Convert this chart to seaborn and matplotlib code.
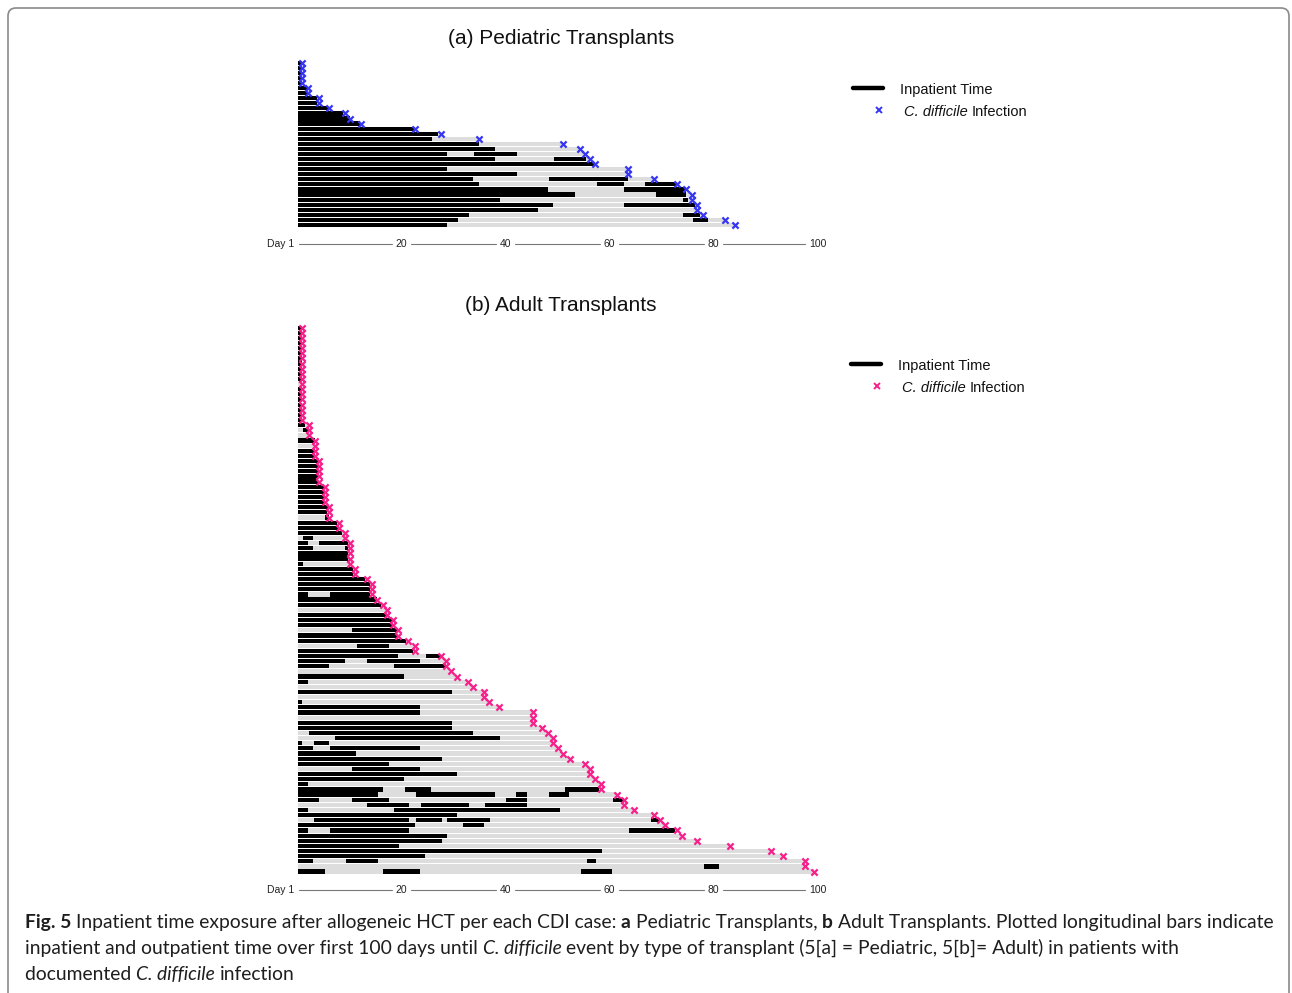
import numpy as np
import pandas as pd
import matplotlib
matplotlib.use("Agg")
import matplotlib.pyplot as plt
import seaborn as sns
from matplotlib.lines import Line2D
from matplotlib.patches import FancyBboxPatch
from matplotlib.transforms import IdentityTransform, blended_transform_factory

# ---------------- data ----------------
ped_title = "(a) Pediatric Transplants"
adult_title = "(b) Adult Transplants"
tick_values = [1, 20, 40, 60, 80, 100]
tick_labels = ["Day 1", "20", "40", "60", "80", "100"]
legend_labels = ["Inpatient Time", "C. difficile", "Infection"]

# day of C. difficile infection per patient (rows top -> bottom)
ped_cdi_day = [0.8, 0.8, 0.8, 0.8, 0.8, 2.1, 2.1, 4.1, 4.1, 6.1, 9.1, 10.1, 12.3,
               22.6, 27.6, 34.9, 51.1, 54.3, 55.3, 56.3, 57.3, 63.6, 63.6, 68.6,
               72.9, 74.8, 75.9, 75.9, 76.9, 76.9, 77.9, 82.2, 84.1]
# inpatient intervals (start day, end day) per patient
ped_inpatient = [
    [(0, 0.8)], [(0, 0.8)], [(0, 0.8)], [(0, 0.8)], [(0, 0.8)],
    [(0, 1.9)], [(0, 1.9)], [(0, 3.8)], [(0, 3.8)], [(0, 5.9)],
    [(0, 8.8)], [(0, 10.0)], [(0, 12.0)], [(0, 22.6)], [(0, 27.1)],
    [(0, 25.8)], [(0, 34.9)], [(0, 38.0)], [(0, 28.7), (33.9, 42.2)],
    [(0, 38.0), (49.4, 55.4)], [(0, 57.2)], [(0, 28.7)], [(0, 42.2)],
    [(0, 33.8), (48.3, 63.6)], [(0, 34.9), (57.5, 62.7), (66.8, 72.9)],
    [(0, 48.2), (62.7, 74.8)], [(0, 53.4), (68.9, 74.8)],
    [(0, 38.9), (74.1, 75.0)], [(0, 49.2), (62.7, 76.4)], [(0, 46.2)],
    [(0, 32.9), (74.1, 77.4)], [(0, 30.8), (76.0, 79.0)], [(0, 28.7)],
]

adult_cdi_day = ([0.8] * 19 + [2.2] * 3 + [3.3] * 4 + [4.2] * 5 + [5.2] * 4 + [6.1] * 3 +
                 [8.0] * 2 + [9.1] * 2 + [10.1] * 5 + [11.1] * 2 + [13.4] + [14.3] * 3 +
                 [15.3, 16.4, 17.3, 17.3, 18.3, 18.3, 19.4, 19.4, 21.3, 22.6, 22.6, 27.5,
                  28.5, 28.5, 29.6, 30.6, 32.8, 33.8, 35.9, 35.9, 36.9, 38.8, 45.2, 45.2,
                  45.2, 47.1, 48.1, 49.1, 49.1, 50.0, 51.1, 52.4, 55.3, 56.3, 56.3, 57.3,
                  58.4, 58.4, 61.4, 62.7, 62.7, 64.7, 68.6, 69.7, 70.7, 72.9, 74.0, 76.9,
                  83.2, 91.1, 93.4, 97.5, 97.5, 99.4])
adult_inpatient = (
    [[(0, 0.8)]] * 11 + [[]] + [[(0, 0.8)]] * 7 +
    [[(0, 1.4)], [(1.0, 2.2)], [],
     [(0, 3.3)], [], [(0, 3.3)], [(0, 3.3)]] +
    [[(0, 4.0)]] * 5 + [[(0, 5.0)]] * 4 +
    [[(0, 6.0)], [(0, 5.6)], [(5.2, 6.0)],
     [(0, 7.5)], [(0, 8.0)], [(0, 8.5)], [(1.0, 3.0)],
     [(0, 2.1), (4.2, 9.8)], [(0, 3.0), (9.1, 9.8)], [(0, 9.8)], [(0, 9.8)], [(0, 1.0)],
     [(0, 10.7)], [(0, 10.7)], [(0, 13.0)], [(0, 13.9)], [(0, 13.9)],
     [(0, 2.1), (6.2, 13.9)], [(0, 15.2)], [(0, 16.0)], [], [(0, 17.1)],
     [(0, 18.1)], [(0, 18.1)], [(10.4, 19.1)], [(0, 19.1)], [(0, 20.9)],
     [(11.4, 17.5)], [(0, 22.3)], [(0, 19.4), (24.7, 27.4)],
     [(0, 9.1), (13.4, 23.6)], [(0, 6.1), (18.6, 28.6)], [], [(0, 20.5)],
     [(0, 2.1)], [], [(0, 29.8)], [], [(0, 0.9)], [(0, 23.6)], [(0, 23.6)], [],
     [(0, 29.8)], [(0, 29.8)], [(2.2, 33.8)], [(7.3, 38.9)],
     [(0, 0.9), (3.2, 6.1)], [(0, 3.0), (6.25, 23.6)], [(0, 11.2)], [(0, 27.7)],
     [(0, 17.5)], [(10.4, 23.6)], [(0, 30.7)], [(0, 20.5)], [(0, 2.1)],
     [(0, 16.4), (20.7, 25.6), (51.4, 58.0)],
     [(0, 15.4), (22.7, 38.0), (42.1, 44.1), (48.4, 52.3)],
     [(0, 4.1), (10.4, 17.5), (40.1, 44.1), (60.7, 62.7)],
     [(13.4, 21.5), (23.7, 32.9), (36.1, 44.1)],
     [(0, 2.1), (18.6, 50.4)], [(0, 30.7)],
     [(3.2, 21.5), (22.7, 27.7), (28.8, 37.0), (67.9, 69.7)],
     [(0, 22.6), (31.9, 35.9)], [(0, 2.1), (6.25, 21.5), (63.8, 72.6)],
     [(0, 28.7)], [(0, 27.7)], [(0, 19.5)], [(0, 58.5)], [(0, 24.5)],
     [(0, 3.0), (9.3, 15.4), (55.6, 57.4)], [(78.2, 81.1)],
     [(0, 5.2), (16.5, 23.6), (54.5, 60.5)]]
)

caption_lines = [
    [("Fig. 5 ", "bold", "normal"),
     ("Inpatient time exposure after allogeneic HCT per each CDI case: ", "normal", "normal"),
     ("a ", "bold", "normal"), ("Pediatric Transplants, ", "normal", "normal"),
     ("b ", "bold", "normal"),
     ("Adult Transplants. Plotted longitudinal bars indicate", "normal", "normal")],
    [("inpatient and outpatient time over first 100 days until ", "normal", "normal"),
     ("C. difficile ", "normal", "italic"),
     ("event by type of transplant (5[a] = Pediatric, 5[b]= Adult) in patients with", "normal", "normal")],
    [("documented ", "normal", "normal"), ("C. difficile ", "normal", "italic"),
     ("infection", "normal", "normal")],
]

# ---------------- styling ----------------
W, H = 1292, 993
GRAY = "#dddddd"
BLUE = "#3636f2"
PINK = "#f7208a"
CHART_FONT = ["Liberation Sans", "DejaVu Sans"]
CAP_FONT = ["Lato", "DejaVu Sans"]
BAR_H = 0.82
TICK_SIZE = 7.5

sns.set_theme(style="white")
plt.rcParams["font.family"] = CHART_FONT

fig = plt.figure(figsize=(W / 100, H / 100), dpi=100)
renderer = fig.canvas.get_renderer()


def fy(y):
    return 1 - y / H


def text_width(txt, size, weight="normal", style="normal", family=CHART_FONT):
    a = fig.text(0, 0, txt + "|", fontsize=size, fontweight=weight, fontstyle=style, family=family)
    b = fig.text(0, 0, "|", fontsize=size, fontweight=weight, fontstyle=style, family=family)
    w = a.get_window_extent(renderer).width - b.get_window_extent(renderer).width
    a.remove()
    b.remove()
    return w


def rich(x, y, parts, size, family, color="#1a1a1a"):
    cur = x
    for txt, weight, style in parts:
        fig.text(cur / W, fy(y), txt, fontsize=size, fontweight=weight, fontstyle=style,
                 family=family, ha="left", va="baseline", color=color)
        cur += text_width(txt, size, weight, style, family)
    return cur


def panel(top, bottom, cdi, inpatient, color, axis_y):
    x0, x1 = 297.5, 817.5
    ax = fig.add_axes([x0 / W, fy(bottom), (x1 - x0) / W, (bottom - top) / H])
    n = len(cdi)
    df = pd.DataFrame({"row": np.arange(n), "cdi": cdi})
    sns.barplot(data=df, x="cdi", y="row", orient="h", color=GRAY, saturation=1,
                width=BAR_H, errorbar=None, linewidth=0, ax=ax)
    for i, segs in enumerate(inpatient):
        for s, e in segs:
            ax.barh(i, e - s, left=s, height=BAR_H, color="black", linewidth=0, zorder=2)
    sns.scatterplot(data=df, x="cdi", y="row", marker="x", color=color, s=20,
                    linewidth=1.6, ax=ax, zorder=4, clip_on=False, legend=False)
    ax.set_xlim(0, 100)
    ax.set_ylim(n - 0.5, -0.5)
    ax.axis("off")

    # custom day axis below the bars
    tr = blended_transform_factory(ax.transData, fig.transFigure)
    ty = fy(axis_y)
    px_day = (x1 - x0) / 100
    prev_right = None
    for v, lab in zip(tick_values, tick_labels):
        w = text_width(lab, TICK_SIZE) / px_day
        if lab.startswith("Day"):
            xc = -0.6
            ax.text(xc, ty, lab, transform=tr, ha="right", va="center", fontsize=TICK_SIZE, color="#222")
            left, right = xc - w, xc
        else:
            xc = v
            ax.text(xc, ty, lab, transform=tr, ha="center", va="center", fontsize=TICK_SIZE, color="#222")
            left, right = xc - w / 2, xc + w / 2
        if prev_right is not None:
            ax.add_line(Line2D([prev_right + 0.8, left - 0.8], [ty, ty], transform=tr,
                               color="#777777", lw=0.8, clip_on=False))
        prev_right = right
    return ax


ax_ped = panel(60.2, 227.5, ped_cdi_day, ped_inpatient, BLUE, 244)
ax_adult = panel(325.1, 874.1, adult_cdi_day, adult_inpatient, PINK, 890)

# titles
fig.text(561 / W, fy(38), ped_title, ha="center", va="center", fontsize=15, color="#111")
fig.text(561 / W, fy(305), adult_title, ha="center", va="center", fontsize=15, color="#111")


# legends
def legend(lx, ly, mx, my, color, tx1, tx2):
    fig.add_artist(Line2D([lx / W, (lx + 30) / W], [fy(ly), fy(ly)], color="black", lw=3.2,
                          transform=fig.transFigure))
    fig.text(tx1 / W, fy(ly + 2), legend_labels[0], ha="left", va="center", fontsize=10.5, color="#111")
    fig.add_artist(Line2D([mx / W], [fy(my)], marker="x", color=color, markersize=4,
                          markeredgewidth=1.4, linestyle="none", transform=fig.transFigure))
    rich(tx2, my + 6.5, [(legend_labels[1] + " ", "normal", "italic"),
                         (legend_labels[2], "normal", "normal")], 10.5, CHART_FONT, color="#111")


legend(853, 88, 879, 110, BLUE, 900, 904)
legend(851, 364, 877, 386, PINK, 898, 902)

# caption, fitted to the reference line width
base = 10
w1 = sum(text_width(t, base, wt, st, CAP_FONT) for t, wt, st in caption_lines[0])
cap_size = base * (1277 - 25) / w1
for parts, yb in zip(caption_lines, [928, 954, 980]):
    rich(25, yb, parts, cap_size, CAP_FONT, color="#1e1e1e")

# outer frame
fig.add_artist(FancyBboxPatch((8, H - 1010), 1281, 1002,
                              boxstyle="round,pad=0,rounding_size=8",
                              transform=IdentityTransform(), fill=False,
                              ec="#8a8a8a", lw=1.2))

fig.savefig("out.png", dpi=100)
